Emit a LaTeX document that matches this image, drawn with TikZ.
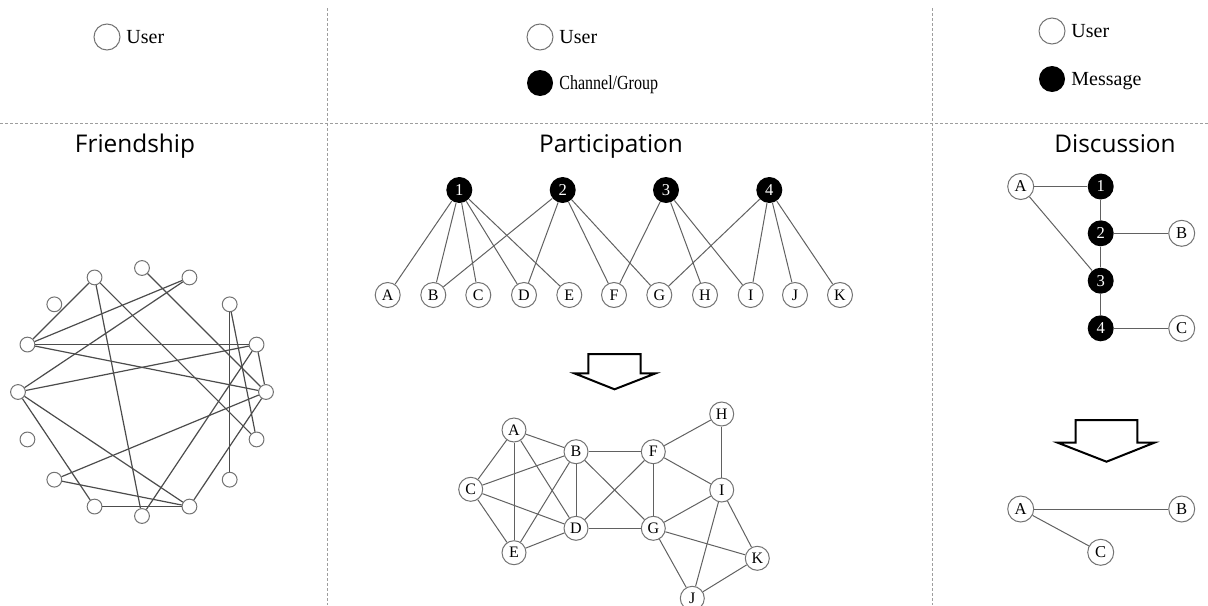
\documentclass[tikz,border=0pt]{standalone}
\usepackage{fontspec}
\setmainfont{Liberation Serif}
\newfontfamily\titlefont{Open Sans}
\usepackage{graphicx}
\definecolor{edgec}{gray}{0.38}
\definecolor{fedgec}{gray}{0.3}
\definecolor{ringc}{gray}{0.45}
\definecolor{sepc}{gray}{0.62}
\begin{document}
\begin{tikzpicture}[x=0.5pt,y=-0.5pt,
  fnode/.style={circle,draw=ringc,line width=0.5pt,fill=white,minimum size=7.4pt,inner sep=0pt},
  unode/.style={circle,draw=ringc,line width=0.5pt,fill=white,minimum size=12.5pt,inner sep=0pt,font=\fontsize{8}{8}\selectfont},
  cnode/.style={circle,fill=black,text=white,minimum size=13pt,inner sep=0pt,font=\fontsize{8.3}{8}\selectfont},
  dnode/.style={unode,minimum size=13pt,font=\fontsize{8.3}{8}\selectfont},
  rnode/.style={unode,minimum size=12pt},
  legu/.style={circle,draw=ringc,line width=0.5pt,fill=white,minimum size=13pt,inner sep=0pt},
  legc/.style={circle,fill=black,minimum size=13pt,inner sep=0pt},
  legt/.style={anchor=base west,inner sep=0pt,font=\fontsize{10}{12}\selectfont},
  ttl/.style={anchor=base,inner sep=0pt,font=\titlefont\fontsize{12.2}{14}\selectfont},
  edge/.style={draw=edgec,line width=0.5pt},
  fedge/.style={draw=fedgec,line width=0.6pt},
  sepline/.style={draw=sepc,line width=0.5pt,dash pattern=on 1.5pt off 1pt},
  bigarrow/.style={draw=black,line width=1pt,fill=white,line join=miter}]
\useasboundingbox (0,0) rectangle (1208,605);
% separators
\coordinate (h0) at (0,123); \coordinate (h1) at (1208,123);
\coordinate (v0t) at (327,8); \coordinate (v0b) at (327,605);
\coordinate (v1t) at (932,8); \coordinate (v1b) at (932,605);
\draw[sepline] (h0) -- (h1);
\draw[sepline] (v0t) -- (v0b);
\draw[sepline] (v1t) -- (v1b);
% legends
\node[legu] (lu1) at (107,37) {};
\node[legt] (lt1) at (126,43.6) {User};
\node[legu] (lu2) at (540,37) {};
\node[legt] (lt2) at (559,43.6) {User};
\node[legc] (lc2) at (540,83) {};
\node[legt] (ltc2) at (559,89.6) {\scalebox{0.8}[1]{Channel/Group}};
\node[legu] (lu3) at (1052,31) {};
\node[legt] (lt3) at (1071,37.6) {User};
\node[legc] (lc3) at (1052,79) {};
\node[legt] (ltc3) at (1071,85.6) {Message};
% titles
\node[ttl] (t1) at (135,152.5) {Friendship};
\node[ttl] (t2) at (611,152.5) {Participation};
\node[ttl] (t3) at (1115,152.5) {Discussion};
% friendship
\foreach \k in {0,...,15}
  \node[fnode] (f\k) at ({142+124*cos(90-22.5*\k)},{392-124*sin(90-22.5*\k)}) {};
\foreach \a/\b in {15/13,15/8,15/5,0/4,1/13,1/12,13/3,13/4,12/3,12/9,12/7,2/6,2/5,3/4,3/8,4/10,4/7,10/7,9/7}
  \draw[fedge] (f\a) -- (f\b);
% participation bipartite
\node[cnode] (p1) at (459.3,190) {1};
\node[cnode] (p2) at (562.7,190) {2};
\node[cnode] (p3) at (666,190) {3};
\node[cnode] (p4) at (769.3,190) {4};
\foreach \n/\x in {A/387.7,B/433.3,C/478.3,D/524,E/569.3,F/614,G/659.3,H/705,I/750.7,J/795,K/840}
  \node[unode] (p\n) at (\x,295) {\n};
\foreach \a/\b in {1/A,1/B,1/C,1/D,1/E,2/B,2/D,2/F,2/G,3/F,3/H,3/I,4/G,4/I,4/J,4/K}
  \draw[edge] (p\a) -- (p\b);
% arrow 1
\draw[bigarrow] (588.3,354) -- (640.7,354) -- (640.7,373.3) -- (655.7,373.3) -- (614.5,389.3) -- (574.3,373.3) -- (588.3,373.3) -- cycle;
% participation result
\node[rnode] (rA) at (514,430) {A};
\node[rnode] (rB) at (576,451.7) {B};
\node[rnode] (rC) at (470.7,489.3) {C};
\node[rnode] (rD) at (576,528.3) {D};
\node[rnode] (rE) at (514,552.7) {E};
\node[rnode] (rF) at (653.3,451.7) {F};
\node[rnode] (rG) at (653.3,528.3) {G};
\node[rnode] (rH) at (721.7,414) {H};
\node[rnode] (rI) at (721.7,490) {I};
\node[rnode] (rK) at (757.3,558.3) {K};
\node[rnode] (rJ) at (692.3,598.3) {J};
\foreach \a/\b in {A/B,A/C,A/E,A/D,B/C,B/D,B/E,B/F,B/G,C/D,C/E,D/E,D/G,D/F,F/G,F/H,F/I,H/I,I/G,I/K,I/J,G/K,G/J,K/J}
  \draw[edge] (r\a) -- (r\b);
% discussion
\node[dnode] (dA) at (1020.7,186.5) {A};
\node[cnode] (d1) at (1100.7,186.5) {1};
\node[cnode] (d2) at (1100.7,233.3) {2};
\node[dnode] (dB) at (1181.7,233.3) {B};
\node[cnode] (d3) at (1100.7,280.7) {3};
\node[cnode] (d4) at (1100.7,328.3) {4};
\node[dnode] (dC) at (1181.7,328.3) {C};
\foreach \a/\b in {A/1,1/2,2/B,2/3,A/3,3/4,4/C}
  \draw[edge] (d\a) -- (d\b);
% arrow 2
\draw[bigarrow] (1075.7,420) -- (1137.3,420) -- (1137.3,442.7) -- (1154.3,442.7) -- (1106.5,461.7) -- (1057.7,442.7) -- (1075.7,442.7) -- cycle;
% discussion result
\node[dnode] (eA) at (1020.7,509) {A};
\node[dnode] (eB) at (1181.7,509) {B};
\node[dnode] (eC) at (1100.7,552.3) {C};
\draw[edge] (eA) -- (eB);
\draw[edge] (eA) -- (eC);
\end{tikzpicture}
\end{document}
